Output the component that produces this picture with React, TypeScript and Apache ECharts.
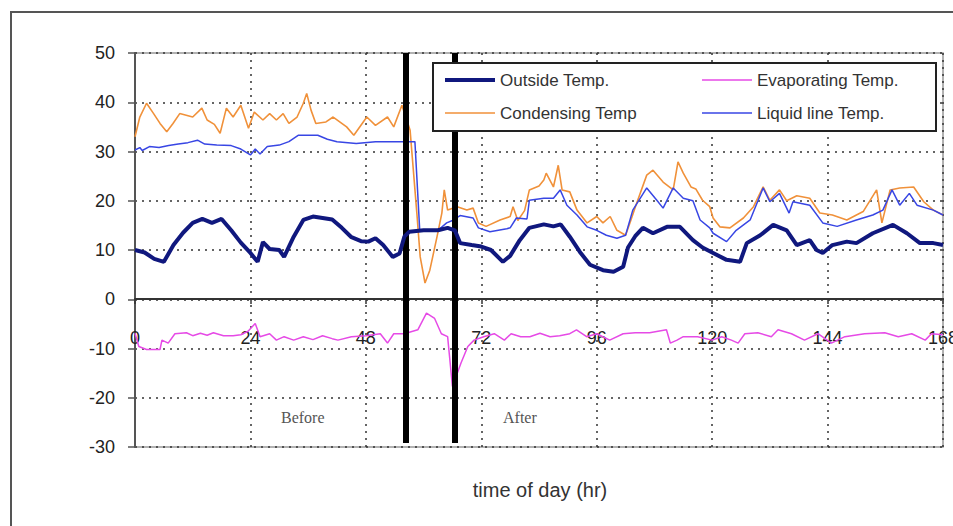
import React, { useEffect, useRef } from "react";
import * as echarts from "echarts";

const xTicks = [0, 24, 48, 72, 96, 120, 144, 168];
const yTicks = [-30, -20, -10, 0, 10, 20, 30, 40, 50];

const legendNames = ["Outside Temp.", "Evaporating Temp.", "Condensing Temp", "Liquid line Temp."];
const periodLabels = ["Before", "After"];
const changeHours = [56.3, 66.5];

const outsideTemp: [number, number][] = [
  [0, 10], [2, 9.5], [4, 8.2], [6, 7.6], [8, 11], [10, 13.5], [12, 15.5], [14, 16.3], [16, 15.5], [18, 16.3],
  [20, 14], [22, 11.5], [24, 9.4], [25.5, 7.6], [26.6, 11.6], [28, 10.2], [30, 10], [31, 8.6], [33, 12.7],
  [35, 16.1], [37, 16.8], [39, 16.5], [41, 16.2], [43, 14.5], [45, 12.6], [47, 11.8], [48.5, 11.7], [50, 12.4],
  [51.6, 11], [53.6, 8.6], [55, 9.3], [56, 12.7], [57, 13.7], [60, 14], [63, 14], [65, 14.5], [66.5, 14],
  [67.6, 11.4], [70, 11], [72, 10.7], [74, 10], [76.5, 7.6], [78, 8.8], [80, 12], [82, 14.5], [85, 15.2],
  [87, 14.8], [88.5, 15.2], [90.4, 12.7], [92.5, 9.6], [94.6, 7], [97.3, 5.9], [99.5, 5.6], [101.5, 6.6],
  [102.5, 10.5], [104, 12.8], [105.6, 14.5], [107.7, 13.4], [110.6, 14.7], [113.3, 14.7], [116, 12], [118, 10.5],
  [120.2, 9.4], [123, 8], [125.8, 7.6], [127.2, 11.4], [130, 13], [132.7, 15.1], [135.5, 14], [137.6, 11],
  [140.3, 12], [141.7, 10], [143, 9.4], [145, 11], [148, 11.7], [150, 11.4], [153.4, 13.4], [157.6, 15.1],
  [160.5, 13.4], [163.2, 11.4], [166, 11.4], [168, 11],
];

const liquidLineTemp: [number, number][] = [
  [0, 30.3], [1, 30.8], [1.5, 30.2], [3, 31], [5, 30.8], [7, 31.2], [9, 31.5], [11, 31.8], [13, 32.3],
  [14.5, 31.5], [17, 31.3], [20, 31.2], [22, 30.5], [24, 29.3], [25, 30.5], [26, 29.5], [27.5, 31], [30, 31.3],
  [32, 32], [34, 33.3], [38, 33.3], [40, 32.5], [42, 32], [46, 31.6], [50, 32], [54, 32], [58.2, 32],
  [59.2, 14], [63, 14], [64.8, 15.5], [66, 16], [67.6, 17], [70.3, 16.5], [71.4, 14.5], [73.8, 13.7],
  [77.3, 14.3], [78, 14.5], [79.3, 16.5], [81.5, 16.3], [82, 20.1], [85, 20.5], [87, 20.5], [88.4, 22.2],
  [89.8, 19.1], [91.9, 17.1], [94, 14.7], [96, 14], [98, 13], [100.2, 12.4], [102, 13], [103.5, 18.1],
  [106.4, 22.6], [108.5, 20.1], [109.8, 18.5], [111.9, 22.6], [114, 20.5], [116, 20], [117.5, 16.1],
  [119.5, 14.5], [120.2, 13.4], [123, 11.7], [125, 14], [127.9, 16.1], [130.6, 22.6], [132, 19.8], [134, 21.5],
  [136, 17.5], [136.8, 19.8], [140.3, 19.1], [143, 15.5], [146, 14.8], [150, 16.1], [153.4, 17.1],
  [155.5, 18.1], [157.4, 22.2], [159, 19.1], [161, 21.5], [162.6, 19.1], [166, 18.1], [168, 17.1],
];

const condensingTemp: [number, number][] = [
  [0, 33], [1, 37], [2.4, 39.8], [3.8, 37.8], [5.2, 35.7], [6.6, 34], [7.9, 35.7], [9.3, 37.7], [12, 37],
  [13.9, 38.8], [15, 36.4], [16.5, 35.5], [17.7, 33.7], [19, 38.8], [20.4, 37], [22, 39.4], [23.6, 34.7],
  [24.8, 38], [26.6, 36.4], [28, 37.7], [29.4, 36.4], [30.8, 37.7], [32, 35.7], [33.7, 37], [35, 39.8],
  [35.7, 41.8], [36.6, 38.4], [37.6, 35.7], [39.7, 36], [41.2, 37], [44, 35], [45.5, 33.3], [48.2, 37],
  [50, 35.3], [52.5, 37], [53.8, 35], [55.5, 39.4], [57.2, 34.3], [58.6, 17.5], [59.3, 8.6], [60.3, 3.3],
  [61.3, 5.9], [62.8, 12.7], [63.8, 17.5], [64.3, 22.2], [65, 18.1], [67, 18.8], [69, 18.1], [70.3, 18.5],
  [71.4, 15.5], [73, 14.8], [75.9, 16.1], [78, 16.8], [78.6, 18.8], [79.6, 16], [81, 18], [82, 22.2],
  [84, 23], [85, 24.2], [85.5, 25.6], [87, 22.8], [88, 27.2], [88.8, 22.2], [90.4, 21.8], [91.9, 18.1],
  [94, 15.5], [96, 16.8], [97.3, 15.5], [98.8, 16.8], [100.2, 14], [102, 13], [102.9, 15.5], [104.3, 19.5],
  [106.4, 25.2], [107.7, 26.2], [109.8, 23.8], [111.9, 22.2], [112.9, 27.9], [114, 25.6], [115.6, 22.8],
  [116.6, 22.4], [118, 20.1], [119.5, 18.8], [120.2, 16.5], [121.6, 14.7], [123.7, 14.5], [126.5, 16.5],
  [128.6, 18.8], [130.6, 22.8], [132, 20.1], [134, 22.2], [135.5, 20], [137.6, 21], [140.3, 20.5],
  [142.4, 17.5], [145, 17.1], [148, 16.1], [151.4, 17.8], [154.2, 22.2], [155.3, 15.5], [157, 22.2],
  [159, 22.6], [161.9, 22.8], [164, 19.8], [166, 18.1], [168, 17.1],
];

const evaporatingTemp: [number, number][] = [
  [0, -6.9], [0.8, -9.6], [2.4, -10.2], [5.2, -10.2], [5.6, -8.3], [6.9, -8.9], [8.3, -7], [10.7, -6.8],
  [12, -7.4], [13.6, -6.9], [15, -7.3], [16.3, -6.8], [18.4, -7.4], [20.4, -7.4], [22, -7.2], [23.5, -6.5],
  [25, -4.9], [26, -7.6], [28, -7], [29.4, -8.3], [31, -7.6], [33, -8.3], [35, -7.6], [37, -8.2], [39, -7.4],
  [41, -8], [42.2, -8.3], [45, -7.6], [48, -7.4], [51, -7], [52.5, -8.9], [53.8, -7], [56, -7], [58.8, -6.2],
  [60.6, -2.8], [62.3, -3.9], [63.7, -7], [65, -7.6], [66, -17.7], [67.8, -12.9], [69.2, -9.6], [70.5, -8.3],
  [72.5, -7.6], [74.7, -7], [76.8, -8.3], [78.2, -7], [80.2, -7.6], [82.1, -7.6], [84.2, -6.9], [86.3, -7.6],
  [88.3, -7.4], [90.4, -7], [91.8, -6.2], [93.9, -7.6], [96, -7], [98.7, -8.3], [101.5, -7], [104, -6.8],
  [107, -6.8], [110.5, -6.2], [111.3, -8.9], [112.7, -8.3], [114, -7.6], [117, -7.6], [120, -8.3],
  [122, -7.6], [124, -8.3], [125.4, -8.9], [126.8, -7], [129.5, -6.8], [132.3, -7.6], [133.7, -6.2],
  [136.5, -7], [139.2, -8.3], [142, -7], [144.8, -8.9], [147.6, -7.6], [151.7, -7], [155.9, -6.8],
  [158.7, -7.6], [161.5, -7], [164.3, -8.3], [165.6, -7], [168, -7.2],
];

const COLORS = {
  outside: "#10187e",
  evap: "#e64ae6",
  cond: "#f0913a",
  liquid: "#3846e4",
};

const SANS = "'Liberation Sans', Arial, sans-serif";
const SERIF = "'Liberation Serif', 'Times New Roman', serif";

export default function App() {
  const ref = useRef<HTMLDivElement>(null);

  useEffect(() => {
    if (!ref.current) return;
    const chart = echarts.init(ref.current, null, { renderer: "svg" });

    const dotted = { color: "#333", width: 1.5, type: [2, 5] as number[] };

    const legendRows = [
      { name: legendNames[0], color: COLORS.outside, w: 4, col: 0, row: 0 },
      { name: legendNames[1], color: COLORS.evap, w: 1.5, col: 1, row: 0 },
      { name: legendNames[2], color: COLORS.cond, w: 1.5, col: 0, row: 1 },
      { name: legendNames[3], color: COLORS.liquid, w: 1.5, col: 1, row: 1 },
    ];
    const colX = [445, 702];
    const rowY = [80, 113];

    const legendGraphics: any[] = [
      {
        type: "rect",
        shape: { x: 433, y: 63, width: 503, height: 68 },
        style: { fill: "#fff", stroke: "#222", lineWidth: 2 },
        z: 100,
      },
    ];
    legendRows.forEach((it) => {
      legendGraphics.push({
        type: "line",
        shape: { x1: colX[it.col], y1: rowY[it.row], x2: colX[it.col] + 50, y2: rowY[it.row] },
        style: { stroke: it.color, lineWidth: it.w },
        z: 101,
      });
      legendGraphics.push({
        type: "text",
        x: colX[it.col] + 55,
        y: rowY[it.row],
        style: {
          text: it.name,
          fill: "#333",
          font: `17px ${SANS}`,
          textVerticalAlign: "middle",
        },
        z: 101,
      });
    });

    const option: any = {
      animation: false,
      backgroundColor: "#fff",
      grid: {
        left: 135,
        right: 10,
        top: 53,
        bottom: 79,
        show: true,
        borderColor: "#999",
        borderWidth: 1.5,
        containLabel: false,
        outerBoundsMode: "none",
      },
      xAxis: [
        {
          type: "value",
          min: 0,
          max: 168,
          interval: 24,
          position: "bottom",
          offset: -148,
          axisLine: { onZero: false, lineStyle: { color: "#333", width: 2 } },
          axisTick: { show: true, inside: false, length: 5, lineStyle: { color: "#333", width: 1.5 } },
          axisLabel: {
            margin: 30,
            fontSize: 18,
            fontFamily: SANS,
            color: "#222",
            showMaxLabel: true,
            formatter: (v: number) => (xTicks.includes(v) ? String(v) : ""),
          },
          splitLine: { show: true, lineStyle: dotted },
        },
      ],
      yAxis: {
        type: "value",
        min: -30,
        max: 50,
        interval: 10,
        axisLine: { show: true, lineStyle: { color: "#555", width: 2 } },
        axisTick: { show: true, length: 7, lineStyle: { color: "#555", width: 1.5 } },
        axisLabel: {
          margin: 20,
          fontSize: 18,
          fontFamily: SANS,
          color: "#222",
          formatter: (v: number) => (yTicks.includes(v) ? String(v) : ""),
        },
        splitLine: { show: true, lineStyle: dotted },
      },
      series: [
        {
          name: legendNames[2],
          type: "line",
          data: condensingTemp,
          showSymbol: false,
          lineStyle: { color: COLORS.cond, width: 1.6 },
          z: 3,
        },
        {
          name: legendNames[3],
          type: "line",
          data: liquidLineTemp,
          showSymbol: false,
          lineStyle: { color: COLORS.liquid, width: 1.5 },
          z: 4,
        },
        {
          name: legendNames[1],
          type: "line",
          data: evaporatingTemp,
          showSymbol: false,
          lineStyle: { color: COLORS.evap, width: 1.5 },
          z: 4,
        },
        {
          name: legendNames[0],
          type: "line",
          data: outsideTemp,
          showSymbol: false,
          lineStyle: { color: COLORS.outside, width: 4 },
          z: 5,
          markLine: {
            silent: true,
            symbol: "none",
            label: { show: false },
            lineStyle: { color: "#000", width: 6, type: "solid" },
            data: changeHours.map((h) => [
              { coord: [h, 50] },
              { coord: [h, -29.2] },
            ]),
          },
        },
      ],
      graphic: [
        {
          type: "rect",
          shape: { x: 11, y: 12, width: 960, height: 540 },
          style: { fill: "none", stroke: "#555", lineWidth: 2 },
          z: 50,
        },
        {
          type: "text",
          x: 281,
          y: 417,
          style: { text: periodLabels[0], fill: "#555", font: `16px ${SERIF}`, textVerticalAlign: "middle" },
          z: 50,
        },
        {
          type: "text",
          x: 503,
          y: 417,
          style: { text: periodLabels[1], fill: "#555", font: `16px ${SERIF}`, textVerticalAlign: "middle" },
          z: 50,
        },
        {
          type: "text",
          x: 540,
          y: 490,
          style: {
            text: "time of day (hr)",
            fill: "#333",
            font: `20px ${SANS}`,
            textAlign: "center",
            textVerticalAlign: "middle",
          },
          z: 50,
        },
        ...legendGraphics,
      ],
    };

    chart.setOption(option);
    return () => chart.dispose();
  }, []);

  return (
    <div
      ref={ref}
      style={{ position: "fixed", left: 0, top: 0, width: 953, height: 526, background: "#fff" }}
    />
  );
}
